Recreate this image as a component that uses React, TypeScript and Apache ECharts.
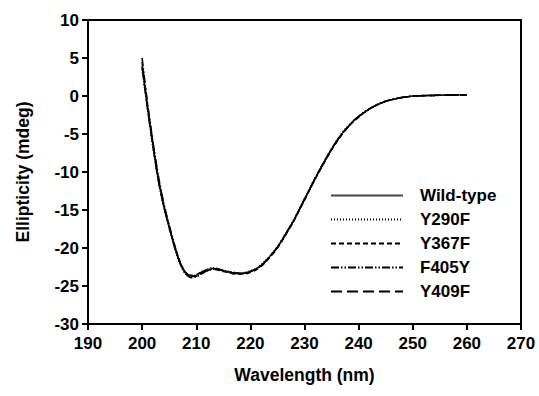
import React, { useEffect, useRef } from "react";
import * as echarts from "echarts";

const wavelengths: number[] = Array.from({ length: 61 }, (_, i) => 200 + i);

const seriesNames = ["Wild-type", "Y290F", "Y367F", "F405Y", "Y409F"];

const wildType = [
  4.0, -1.5, -6.5, -11.0, -14.5, -17.3, -19.9, -22.0, -23.3, -23.8,
  -23.6, -23.2, -22.9, -22.7, -22.8, -23.0, -23.1, -23.3, -23.3, -23.3,
  -23.1, -22.8, -22.3, -21.6, -20.8, -19.9, -18.8, -17.6, -16.4, -15.0,
  -13.6, -12.2, -10.8, -9.5, -8.2, -7.0, -5.9, -4.9, -4.1, -3.3,
  -2.7, -2.2, -1.7, -1.3, -1.0, -0.7, -0.5, -0.35, -0.2, -0.1,
  0.0, 0.03, 0.05, 0.07, 0.08, 0.1, 0.1, 0.12, 0.12, 0.14, 0.15,
];
const y290f = [
  3.5, -1.8, -6.8, -11.2, -14.6, -17.4, -20.0, -22.1, -23.4, -23.7,
  -23.5, -23.1, -22.8, -22.6, -22.7, -22.9, -23.1, -23.2, -23.3, -23.2,
  -23.0, -22.7, -22.2, -21.5, -20.7, -19.8, -18.7, -17.5, -16.3, -14.9,
  -13.5, -12.1, -10.7, -9.4, -8.1, -6.9, -5.8, -4.8, -4.0, -3.3,
  -2.7, -2.2, -1.7, -1.3, -1.0, -0.7, -0.5, -0.35, -0.2, -0.1,
  0.0, 0.03, 0.05, 0.06, 0.08, 0.09, 0.1, 0.11, 0.12, 0.13, 0.14,
];
const y367f = [
  4.5, -1.2, -6.2, -10.8, -14.3, -17.1, -19.7, -21.8, -23.2, -23.7,
  -23.7, -23.3, -23.0, -22.8, -22.9, -23.1, -23.2, -23.4, -23.4, -23.4,
  -23.2, -22.9, -22.4, -21.7, -20.9, -20.0, -18.9, -17.7, -16.5, -15.1,
  -13.7, -12.3, -10.9, -9.6, -8.3, -7.1, -6.0, -5.0, -4.1, -3.4,
  -2.8, -2.2, -1.7, -1.3, -1.0, -0.7, -0.5, -0.35, -0.2, -0.1,
  0.0, 0.02, 0.04, 0.06, 0.08, 0.1, 0.11, 0.12, 0.13, 0.14, 0.15,
];
const f405y = [
  5.0, -1.0, -6.0, -10.5, -14.1, -17.0, -19.6, -21.9, -23.3, -23.9,
  -23.8, -23.4, -23.0, -22.8, -22.8, -23.0, -23.2, -23.3, -23.4, -23.3,
  -23.1, -22.8, -22.3, -21.6, -20.8, -19.9, -18.8, -17.6, -16.4, -15.0,
  -13.6, -12.2, -10.8, -9.5, -8.2, -7.0, -5.9, -4.9, -4.1, -3.3,
  -2.7, -2.1, -1.7, -1.3, -0.9, -0.7, -0.5, -0.3, -0.2, -0.1,
  0.0, 0.03, 0.05, 0.07, 0.09, 0.1, 0.11, 0.12, 0.13, 0.14, 0.16,
];
const y409f = [
  3.8, -1.6, -6.6, -11.1, -14.5, -17.2, -19.8, -21.9, -23.2, -23.6,
  -23.5, -23.2, -22.9, -22.7, -22.8, -23.0, -23.2, -23.3, -23.3, -23.3,
  -23.1, -22.8, -22.3, -21.6, -20.8, -19.9, -18.8, -17.6, -16.4, -15.0,
  -13.6, -12.2, -10.8, -9.5, -8.2, -7.0, -5.9, -4.9, -4.1, -3.3,
  -2.7, -2.2, -1.7, -1.3, -1.0, -0.7, -0.5, -0.35, -0.2, -0.1,
  0.0, 0.03, 0.05, 0.07, 0.08, 0.1, 0.1, 0.12, 0.13, 0.14, 0.15,
];

const seriesValues = [wildType, y290f, y367f, f405y, y409f];
const lineTypes: any[] = ["solid", [1, 2], [5, 3], [8, 2, 1.5, 2, 1.5, 2], [11, 5]];
const lineColors = ["#444", "#000", "#000", "#000", "#000"];

const FONT = "Liberation Sans, Arial, sans-serif";

export default function App() {
  const ref = useRef<HTMLDivElement>(null);
  useEffect(() => {
    if (!ref.current) return;
    const chart = echarts.init(ref.current, undefined, { renderer: "svg" });
    chart.setOption({
      animation: false,
      backgroundColor: "#fff",
      textStyle: { fontFamily: FONT },
      grid: {
        left: 88,
        right: 18,
        top: 20,
        bottom: 72,
        show: true,
        borderColor: "#000",
        borderWidth: 2,
        backgroundColor: "transparent",
      },
      legend: {
        orient: "vertical",
        left: 325,
        top: 182,
        padding: 5,
        itemWidth: 72,
        itemHeight: 14,
        itemGap: 7,
        data: seriesNames,
        itemStyle: { opacity: 0, color: "transparent", borderWidth: 0 },
        textStyle: {
          fontFamily: FONT,
          fontWeight: "bold",
          fontSize: 17,
          color: "#000",
          padding: [0, 0, 0, 12],
        },
      },
      xAxis: {
        type: "value",
        min: 190,
        max: 270,
        interval: 10,
        name: "Wavelength (nm)",
        nameLocation: "middle",
        nameGap: 42,
        nameTextStyle: { fontFamily: FONT, fontWeight: "bold", fontSize: 17.5, color: "#000" },
        axisLine: { show: true, onZero: false, lineStyle: { color: "#000", width: 2 } },
        axisTick: { show: true, inside: false, length: 6, lineStyle: { color: "#000", width: 2 } },
        axisLabel: { fontFamily: FONT, fontWeight: "bold", fontSize: 17, color: "#000", margin: 11 },
        splitLine: { show: false },
      },
      yAxis: {
        type: "value",
        min: -30,
        max: 10,
        interval: 5,
        name: "Ellipticity (mdeg)",
        nameLocation: "middle",
        nameGap: 56,
        nameTextStyle: { fontFamily: FONT, fontWeight: "bold", fontSize: 17.5, color: "#000" },
        axisLine: { show: true, onZero: false, lineStyle: { color: "#000", width: 2 } },
        axisTick: { show: true, inside: false, length: 6, lineStyle: { color: "#000", width: 2 } },
        axisLabel: { fontFamily: FONT, fontWeight: "bold", fontSize: 17, color: "#000", margin: 9 },
        splitLine: { show: false },
      },
      series: seriesNames.map((name, i) => ({
        name,
        type: "line",
        showSymbol: false,
        symbol: "none",
        smooth: 0.3,
        data: wavelengths.map((w, j) => [w, seriesValues[i][j]]),
        lineStyle: { color: lineColors[i], width: 1.6, type: lineTypes[i] },
        itemStyle: { color: lineColors[i] },
      })),
    });
    return () => chart.dispose();
  }, []);
  return <div ref={ref} style={{ width: 539, height: 396, position: "absolute", left: 0, top: 0 }} />;
}
